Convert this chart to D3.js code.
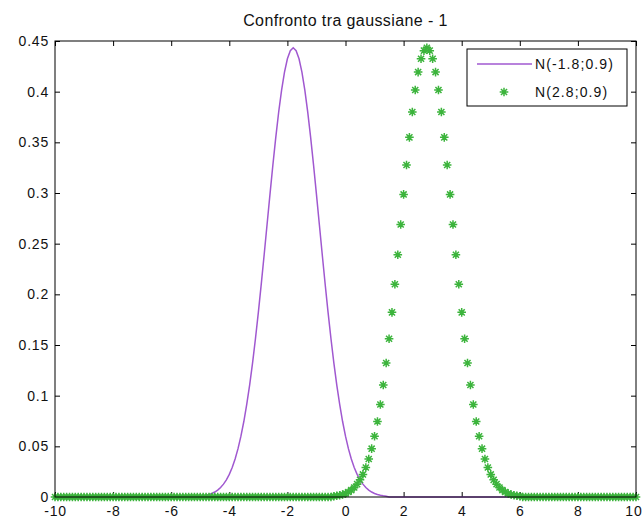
<!DOCTYPE html>
<html>
<head>
<meta charset="utf-8">
<script src="https://cdn.jsdelivr.net/npm/d3@7"></script>
<style>
  body { margin: 0; background: #fff; }
  svg { font-family: "Liberation Sans", Arial, sans-serif; }
</style>
</head>
<body>
<svg id="chart" width="643" height="525"></svg>
<script>
// valori: x = -10:0.1:10
const xValues = [
  -10,-9.9,-9.8,-9.7,-9.6,-9.5,-9.4,-9.3,-9.2,-9.1,
  -9,-8.9,-8.8,-8.7,-8.6,-8.5,-8.4,-8.3,-8.2,-8.1,
  -8,-7.9,-7.8,-7.7,-7.6,-7.5,-7.4,-7.3,-7.2,-7.1,
  -7,-6.9,-6.8,-6.7,-6.6,-6.5,-6.4,-6.3,-6.2,-6.1,
  -6,-5.9,-5.8,-5.7,-5.6,-5.5,-5.4,-5.3,-5.2,-5.1,
  -5,-4.9,-4.8,-4.7,-4.6,-4.5,-4.4,-4.3,-4.2,-4.1,
  -4,-3.9,-3.8,-3.7,-3.6,-3.5,-3.4,-3.3,-3.2,-3.1,
  -3,-2.9,-2.8,-2.7,-2.6,-2.5,-2.4,-2.3,-2.2,-2.1,
  -2,-1.9,-1.8,-1.7,-1.6,-1.5,-1.4,-1.3,-1.2,-1.1,
  -1,-0.9,-0.8,-0.7,-0.6,-0.5,-0.4,-0.3,-0.2,-0.1,
  0,0.1,0.2,0.3,0.4,0.5,0.6,0.7,0.8,0.9,
  1,1.1,1.2,1.3,1.4,1.5,1.6,1.7,1.8,1.9,
  2,2.1,2.2,2.3,2.4,2.5,2.6,2.7,2.8,2.9,
  3,3.1,3.2,3.3,3.4,3.5,3.6,3.7,3.8,3.9,
  4,4.1,4.2,4.3,4.4,4.5,4.6,4.7,4.8,4.9,
  5,5.1,5.2,5.3,5.4,5.5,5.6,5.7,5.8,5.9,
  6,6.1,6.2,6.3,6.4,6.5,6.6,6.7,6.8,6.9,
  7,7.1,7.2,7.3,7.4,7.5,7.6,7.7,7.8,7.9,
  8,8.1,8.2,8.3,8.4,8.5,8.6,8.7,8.8,8.9,
  9,9.1,9.2,9.3,9.4,9.5,9.6,9.7,9.8,9.9,
  10
];

// N(-1.8;0.9) - linea viola
const pdfA = [
  0,0,0,0,0,0,0,0,0,0,
  0,0,0,0,0,0,0,0,0,0,
  0,0,0,0,0,0,0,0,0,0,
  0,0,0,0,0,0,0,0,0,0,
  0,0,0,0,0,0,0,0,0,0,
  0.0008,0.0012,0.0017,0.0025,0.0035,0.0049,0.0068,0.0094,0.0127,0.0169,
  0.0223,0.0291,0.0375,0.0477,0.0600,0.0745,0.0913,0.1105,0.1322,0.1562,
  0.1822,0.2100,0.2391,0.2689,0.2986,0.3276,0.3549,0.3799,0.4016,0.4193,
  0.4325,0.4405,0.4433,0.4405,0.4325,0.4193,0.4016,0.3799,0.3549,0.3276,
  0.2986,0.2689,0.2391,0.2100,0.1822,0.1562,0.1322,0.1105,0.0913,0.0745,
  0.0600,0.0477,0.0375,0.0291,0.0223,0.0169,0.0127,0.0094,0.0068,0.0049,
  0.0035,0.0025,0.0017,0.0012,0.0008,0,0,0,0,0,
  0,0,0,0,0,0,0,0,0,0,
  0,0,0,0,0,0,0,0,0,0,
  0,0,0,0,0,0,0,0,0,0,
  0,0,0,0,0,0,0,0,0,0,
  0,0,0,0,0,0,0,0,0,0,
  0,0,0,0,0,0,0,0,0,0,
  0,0,0,0,0,0,0,0,0,0,
  0,0,0,0,0,0,0,0,0,0,
  0
];

// N(2.8;0.9) - asterischi verdi
const pdfB = [
  0,0,0,0,0,0,0,0,0,0,
  0,0,0,0,0,0,0,0,0,0,
  0,0,0,0,0,0,0,0,0,0,
  0,0,0,0,0,0,0,0,0,0,
  0,0,0,0,0,0,0,0,0,0,
  0,0,0,0,0,0,0,0,0,0,
  0,0,0,0,0,0,0,0,0,0,
  0,0,0,0,0,0,0,0,0,0,
  0,0,0,0,0,0,0,0,0,0,
  0,0,0,0,0,0,0.0008,0.0012,0.0017,0.0025,
  0.0035,0.0049,0.0068,0.0094,0.0127,0.0169,0.0223,0.0291,0.0375,0.0477,
  0.0600,0.0745,0.0913,0.1105,0.1322,0.1562,0.1822,0.2100,0.2391,0.2689,
  0.2986,0.3276,0.3549,0.3799,0.4016,0.4193,0.4325,0.4405,0.4433,0.4405,
  0.4325,0.4193,0.4016,0.3799,0.3549,0.3276,0.2986,0.2689,0.2391,0.2100,
  0.1822,0.1562,0.1322,0.1105,0.0913,0.0745,0.0600,0.0477,0.0375,0.0291,
  0.0223,0.0169,0.0127,0.0094,0.0068,0.0049,0.0035,0.0025,0.0017,0.0012,
  0.0008,0,0,0,0,0,0,0,0,0,
  0,0,0,0,0,0,0,0,0,0,
  0,0,0,0,0,0,0,0,0,0,
  0,0,0,0,0,0,0,0,0,0,
  0
];

const xTicks = [-10, -8, -6, -4, -2, 0, 2, 4, 6, 8, 10];
const yTicks = [0, 0.05, 0.1, 0.15, 0.2, 0.25, 0.3, 0.35, 0.4, 0.45];
const seriesNames = ["N(-1.8;0.9)", "N(2.8;0.9)"];
const chartTitle = "Confronto tra gaussiane - 1";

const colA = "#a058d0";
const colB = "#3cb43c";

const svg = d3.select("#chart");
const area = { left: 55, right: 636, top: 41, bottom: 497 };

const scX = d3.scaleLinear().domain([-10, 10]).range([area.left, area.right]);
const scY = d3.scaleLinear().domain([0, 0.45]).range([area.bottom, area.top]);

const fontCss = "font-size:14px;letter-spacing:0.8px;fill:#111";

// assi (tacche verso l'interno come in matlab)
const gx = svg.append("g")
  .attr("transform", `translate(0, ${area.bottom})`)
  .call(d3.axisBottom(scX).tickValues(xTicks).tickFormat(d => String(d))
    .tickSizeInner(-5).tickSizeOuter(0).tickPadding(9));
gx.selectAll("text").attr("style", fontCss);
// l'ultima etichetta sta al bordo della finestra
gx.selectAll("text").filter(d => d === 10)
  .attr("text-anchor", "end")
  .attr("x", 642 - area.right);

svg.append("g")
  .attr("transform", `translate(0, ${area.top})`)
  .call(d3.axisTop(scX).tickValues(xTicks).tickFormat("")
    .tickSizeInner(-5).tickSizeOuter(0));

const gy = svg.append("g")
  .attr("transform", `translate(${area.left}, 0)`)
  .call(d3.axisLeft(scY).tickValues(yTicks).tickFormat(d => String(d))
    .tickSizeInner(-5).tickSizeOuter(0).tickPadding(6));
gy.selectAll("text").attr("style", fontCss);

svg.append("g")
  .attr("transform", `translate(${area.right}, 0)`)
  .call(d3.axisRight(scY).tickValues(yTicks).tickFormat("")
    .tickSizeInner(-5).tickSizeOuter(0));

svg.selectAll(".domain").remove();
svg.selectAll(".tick line").attr("stroke", "#000");

// linea viola
const lineGen = d3.line()
  .x((d, i) => scX(xValues[i]))
  .y(d => scY(d));

svg.append("path")
  .datum(pdfA)
  .attr("d", lineGen)
  .style("fill", "none")
  .style("stroke", colA)
  .style("stroke-width", 1.5);

// asterisco
function starPath(r) {
  const a = r * 0.7071;
  return `M${-r},0H${r}M0,${-r}V${r}M${-a},${-a}L${a},${a}M${-a},${a}L${a},${-a}`;
}

svg.selectAll(".star")
  .data(pdfB)
  .enter()
  .append("path")
  .attr("class", "star")
  .attr("transform", (d, i) => `translate(${scX(xValues[i])}, ${scY(d)})`)
  .attr("d", starPath(4.3))
  .style("fill", "none")
  .style("stroke", colB)
  .style("stroke-width", 1.5);

// cornice
svg.append("rect")
  .attr("x", area.left).attr("y", area.top)
  .attr("width", area.right - area.left).attr("height", area.bottom - area.top)
  .style("fill", "none").style("stroke", "#000").style("stroke-width", 1);

// titolo
svg.append("text")
  .attr("x", (area.left + area.right) / 2)
  .attr("y", 26)
  .attr("text-anchor", "middle")
  .attr("style", "font-size:16px;letter-spacing:0.4px;fill:#111")
  .text(chartTitle);

// legenda
const leg = svg.append("g");
leg.append("rect")
  .attr("x", 467).attr("y", 49).attr("width", 160).attr("height", 57)
  .style("fill", "#fff").style("stroke", "#000");
leg.append("line")
  .attr("x1", 477).attr("x2", 532).attr("y1", 64).attr("y2", 64)
  .style("stroke", colA).style("stroke-width", 1.5);
leg.append("path")
  .attr("transform", "translate(504, 92)")
  .attr("d", starPath(4.3))
  .style("fill", "none").style("stroke", colB).style("stroke-width", 1.5);
leg.selectAll(".leg-text")
  .data(seriesNames)
  .enter()
  .append("text")
  .attr("class", "leg-text")
  .attr("x", 535)
  .attr("y", (d, i) => 69 + i * 28)
  .attr("style", "font-size:14px;letter-spacing:1.1px;fill:#111")
  .text(d => d);
</script>
</body>
</html>
